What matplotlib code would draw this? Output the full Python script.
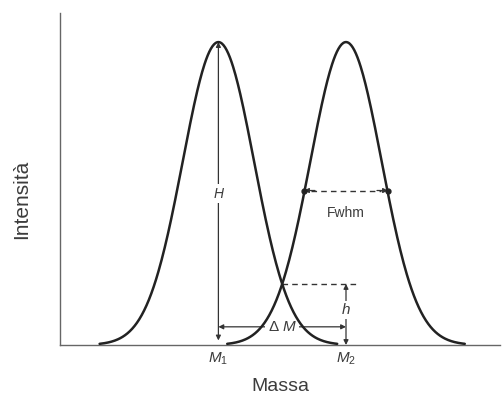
import numpy as np
import matplotlib
matplotlib.use("Agg")
import matplotlib.pyplot as plt

plt.rcParams.update({
    "font.family": ["Liberation Sans", "DejaVu Sans"],
    "mathtext.fontset": "custom",
    "mathtext.rm": "Liberation Sans",
    "mathtext.it": "Liberation Sans:italic",
})

# two neighbouring mass peaks (arbitrary units)
peak_names = ["M1", "M2"]
peak_centres = [36.0, 65.0]
peak_heights = [1.0, 1.0]
peak_sigmas = [8.1, 8.1]
peak_span = 27.0  # half-width of the drawn profile
tick_labels = [r"$M_1$", r"$M_2$"]

C_LINE = "#222222"
C_AXIS = "#666666"
C_TEXT = "#3c3c3c"


def profile(x, c, a, s):
    return a * np.exp(-(x - c) ** 2 / (2 * s ** 2))


fig = plt.figure(figsize=(5.04, 4.01), dpi=100)
ax = fig.add_axes([60 / 504, 56 / 401, 440 / 504, 332 / 401])
ax.set_xlim(0, 100)
ax.set_ylim(0, 1.096)

for c, a, s in zip(peak_centres, peak_heights, peak_sigmas):
    x = np.linspace(c - peak_span, c + peak_span, 300)
    ax.plot(x, profile(x, c, a, s), color=C_LINE, lw=1.8, zorder=4,
            solid_capstyle="round")

for side in ("top", "right"):
    ax.spines[side].set_visible(False)
for side in ("left", "bottom"):
    ax.spines[side].set_color(C_AXIS)
    ax.spines[side].set_linewidth(1.0)

ax.set_yticks([])
ax.set_xticks(peak_centres)
ax.set_xticklabels(tick_labels, fontsize=11, color=C_TEXT)
ax.tick_params(axis="x", length=0, pad=4)
ax.set_xlabel("Massa", fontsize=14, color=C_TEXT, labelpad=8)
ax.set_ylabel("Intensità", fontsize=15, color=C_TEXT)
ax.yaxis.set_label_coords(-0.066, 0.44)

m1, m2 = peak_centres
h1 = peak_heights[0]
s2 = peak_sigmas[1]
arrow_kw = dict(color="#333333", lw=0.9, shrinkA=0, shrinkB=0, mutation_scale=7)
label_box = dict(boxstyle="square,pad=0.15", facecolor="white", edgecolor="none")

# H: peak height
ax.annotate("", xy=(m1, h1), xytext=(m1, 0.015),
            arrowprops=dict(arrowstyle="<|-|>", **arrow_kw), zorder=2)
ax.text(m1, 0.5, "H", fontsize=10, style="italic", color=C_TEXT,
        ha="center", va="center", bbox=label_box, zorder=3)

# full width at half maximum of the second peak
hw = s2 * np.sqrt(2 * np.log(2))
fy = peak_heights[1] / 2 + 0.01
fx0, fx1 = m2 - hw, m2 + hw
ax.plot([fx0 + 1.5, fx1 - 1.5], [fy, fy], color="#333333", lw=1.0, ls=(0, (4, 3)), zorder=2)
for xa, xb in ((fx0 + 2.5, fx0), (fx1 - 2.5, fx1)):
    ax.annotate("", xy=(xb, fy), xytext=(xa, fy),
                arrowprops=dict(arrowstyle="-|>", **arrow_kw), zorder=2)
ax.plot([fx0, fx1], [fy, fy], "o", color=C_LINE, ms=3.5, zorder=5)
ax.text(m2, 0.435, "Fwhm", fontsize=10, color=C_TEXT, ha="center", va="center")

# Delta M: peak separation
dy = 0.06
ax.annotate("", xy=(m1, dy), xytext=(m2, dy),
            arrowprops=dict(arrowstyle="<|-|>", **arrow_kw), zorder=2)
ax.text((m1 + m2) / 2, dy, r"Δ $M$", fontsize=11, color=C_TEXT,
        ha="center", va="center", bbox=label_box, zorder=3)

# h: valley height between the peaks
xc = (m1 + m2) / 2
yc = profile(xc, m1, h1, peak_sigmas[0])
ax.plot([xc, m2 + 3], [yc, yc], color="#333333", lw=1.0, ls=(0, (4, 3)), zorder=2)
ax.annotate("", xy=(m2, yc), xytext=(m2, 0.0),
            arrowprops=dict(arrowstyle="<|-|>", **arrow_kw), zorder=2)
ax.text(m2, 0.115, "h", fontsize=11, style="italic", color=C_TEXT,
        ha="center", va="center", bbox=label_box, zorder=3)

fig.savefig("out.png", dpi=100)
